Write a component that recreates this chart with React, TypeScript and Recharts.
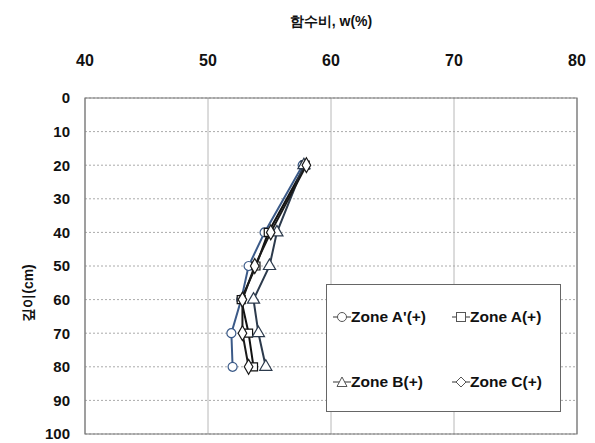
import React from "react";
import {
  ScatterChart,
  Scatter,
  XAxis,
  YAxis,
  ZAxis,
  CartesianGrid,
  ReferenceArea,
} from "recharts";

const depths = [20, 40, 50, 60, 70, 80];
const zoneAPrime = [57.7, 54.6, 53.3, 52.7, 51.9, 52.0];
const zoneA = [57.9, 54.9, 53.9, 52.7, 53.3, 53.7];
const zoneB = [57.8, 55.6, 55.0, 53.7, 54.1, 54.7];
const zoneC = [58.0, 55.1, 53.8, 52.8, 52.8, 53.3];

const xTicks = [40, 50, 60, 70, 80];
const yTicks = [0, 10, 20, 30, 40, 50, 60, 70, 80, 90, 100];

const seriesNames = ["Zone A'(+)", "Zone A(+)", "Zone B(+)", "Zone C(+)"];

const toRows = (vals: number[]) => vals.map((w, i) => ({ w, depth: depths[i] }));

const FONT = "'Liberation Sans', Arial, sans-serif";

const series = [
  { name: seriesNames[0], data: toRows(zoneAPrime), shape: "circle", color: "#3b5a88" },
  { name: seriesNames[1], data: toRows(zoneA), shape: "square", color: "#111111" },
  { name: seriesNames[2], data: toRows(zoneB), shape: "triangle", color: "#2c3a4c" },
  { name: seriesNames[3], data: toRows(zoneC), shape: "diamond", color: "#1a1a1a" },
];

const MarkerIcon = ({ shape }: { shape: string }) => {
  const c = "#555";
  let m: React.ReactNode = null;
  if (shape === "circle") m = <circle cx={9} cy={7} r={4.5} fill="#fff" stroke={c} />;
  if (shape === "square") m = <rect x={4.5} y={2.5} width={9} height={9} fill="#fff" stroke={c} />;
  if (shape === "triangle") m = <polygon points="9,2 14,11.5 4,11.5" fill="#fff" stroke={c} />;
  if (shape === "diamond") m = <polygon points="9,2 14,7 9,12 4,7" fill="#fff" stroke={c} />;
  return (
    <svg width={18} height={14} style={{ verticalAlign: "middle" }}>
      <line x1={0} y1={7} x2={18} y2={7} stroke={c} strokeWidth={1.2} />
      {m}
    </svg>
  );
};

const YLabel = () => (
  <text
    x={28}
    y={293}
    transform="rotate(-90 28 293)"
    textAnchor="middle"
    dominantBaseline="central"
    fontFamily={FONT}
    fontWeight="bold"
    fontSize={14}
    fill="#111"
  >
    깊이(cm)
  </text>
);

export default function App() {
  return (
    <div style={{ position: "absolute", left: 0, top: 0, width: 595, height: 443, background: "#fff" }}>
      <ScatterChart
        width={595}
        height={443}
        margin={{ top: 0, right: 18, bottom: 9, left: 0 }}
      >
        <CartesianGrid horizontal={false} vertical={true} stroke="#b8b8b8" />
        <CartesianGrid horizontal={true} vertical={false} stroke="#aaaaaa" strokeDasharray="2 2" />
        <XAxis
          type="number"
          dataKey="w"
          orientation="top"
          domain={[40, 80]}
          ticks={xTicks}
          height={98}
          tickSize={0}
          tickMargin={32}
          axisLine={false}
          tick={{ fontFamily: FONT, fontWeight: "bold", fontSize: 16, fill: "#111" }}
          label={{
            value: "함수비, w(%)",
            position: "insideTop",
            offset: 16,
            style: { fontFamily: FONT, fontWeight: "bold", fontSize: 14, fill: "#111" },
          }}
          allowDataOverflow
        />
        <YAxis
          type="number"
          dataKey="depth"
          reversed
          domain={[0, 100]}
          ticks={yTicks}
          width={85}
          tickSize={0}
          tickMargin={15}
          axisLine={false}
          tick={{ fontFamily: FONT, fontWeight: "bold", fontSize: 15, fill: "#111" }}
          label={<YLabel />}
          interval={0}
        />
        <ZAxis range={[85, 85]} />
        <ReferenceArea
          x1={40}
          x2={80}
          y1={0}
          y2={100}
          fill="none"
          fillOpacity={0}
          stroke="#777"
          strokeWidth={1.2}
          ifOverflow="visible"
        />
        {series.map((s) => (
          <Scatter
            key={s.name}
            name={s.name}
            data={s.data}
            shape={s.shape as any}
            fill="#ffffff"
            stroke={s.color}
            strokeWidth={1.2}
            line={{ stroke: s.color, strokeWidth: 2 }}
            isAnimationActive={false}
          />
        ))}
      </ScatterChart>
      <div
        style={{
          position: "absolute",
          left: 326,
          top: 284,
          width: 235,
          height: 128,
          border: "1.5px solid #666",
          background: "#fff",
          boxSizing: "border-box",
          fontFamily: FONT,
          fontWeight: "bold",
          fontSize: 15.5,
          color: "#111",
        }}
      >
        {series.map((s, i) => (
          <div
            key={s.name}
            style={{
              position: "absolute",
              left: i % 2 === 0 ? 6 : 125,
              top: i < 2 ? 23 : 88,
              whiteSpace: "nowrap",
              display: "flex",
              alignItems: "center",
            }}
          >
            <MarkerIcon shape={s.shape} />
            <span>{s.name}</span>
          </div>
        ))}
      </div>
    </div>
  );
}
